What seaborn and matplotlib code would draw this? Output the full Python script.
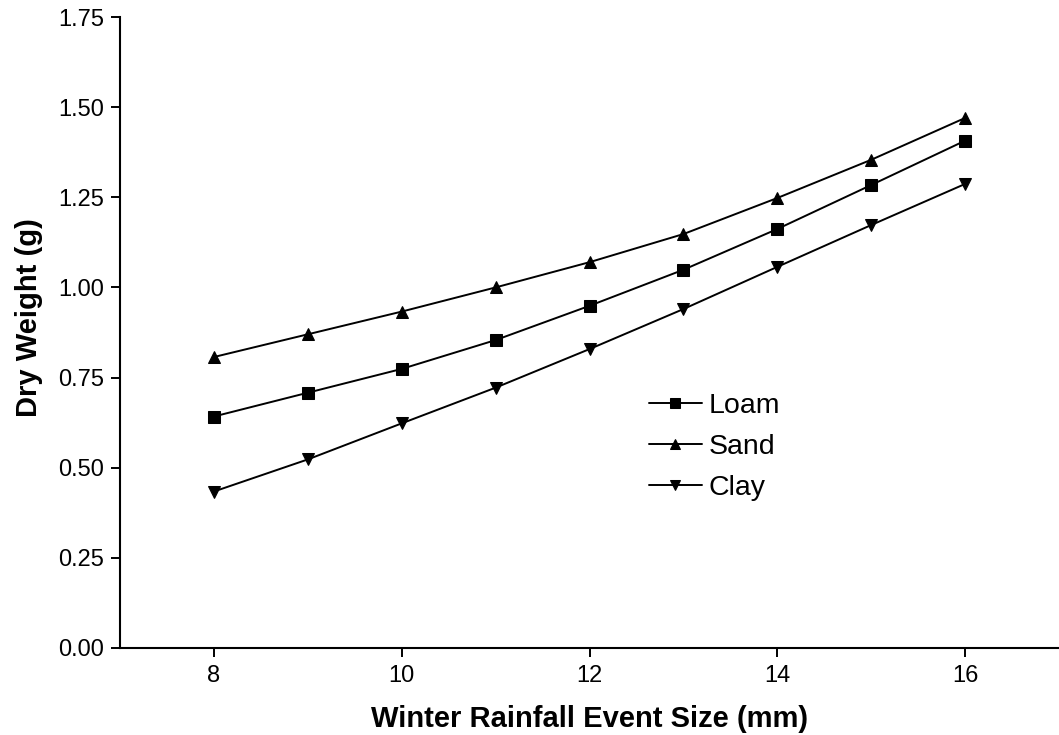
import matplotlib
matplotlib.use("Agg")
import matplotlib.pyplot as plt
import seaborn as sns
import pandas as pd

rain_mm = [8, 9, 10, 11, 12, 13, 14, 15, 16]
loam = [0.642, 0.708, 0.774, 0.854, 0.949, 1.049, 1.162, 1.284, 1.407]
sand = [0.807, 0.870, 0.933, 1.000, 1.070, 1.148, 1.248, 1.354, 1.470]
clay = [0.434, 0.523, 0.623, 0.722, 0.829, 0.940, 1.057, 1.173, 1.287]
soils = ["Loam", "Sand", "Clay"]
y_ticks = [0.00, 0.25, 0.50, 0.75, 1.00, 1.25, 1.50, 1.75]
x_ticks = [8, 10, 12, 14, 16]

df = pd.DataFrame({
    "x": rain_mm * 3,
    "y": loam + sand + clay,
    "soil": [s for s in soils for _ in rain_mm],
})

sns.set_style("ticks")
plt.rcParams["font.family"] = ["Liberation Sans", "DejaVu Sans"]
plt.rcParams["text.color"] = "black"
plt.rcParams["axes.labelcolor"] = "black"

fig = plt.figure(figsize=(10.59, 7.35), dpi=100)
ax = fig.add_axes([120 / 1059, 87 / 735, 939 / 1059, 631 / 735])

sns.lineplot(
    data=df, x="x", y="y", style="soil", style_order=soils,
    markers={"Loam": "s", "Sand": "^", "Clay": "v"}, dashes=False,
    color="black", markersize=8.5, linewidth=1.4, markeredgecolor="black",
    ax=ax,
)

ax.set_xlim(7, 17)
ax.set_ylim(0, 1.75)
ax.set_xticks(x_ticks)
ax.set_yticks(y_ticks)
ax.set_yticklabels([f"{v:.2f}" for v in y_ticks])
ax.tick_params(axis="both", direction="out", length=6.5, width=1.4, labelsize=17,
               colors="black", labelcolor="black")
ax.tick_params(axis="y", pad=5)
ax.tick_params(axis="x", pad=6)
for s in ["top", "right"]:
    ax.spines[s].set_visible(False)
for s in ["left", "bottom"]:
    ax.spines[s].set_linewidth(1.5)
    ax.spines[s].set_color("black")

ax.set_xlabel("Winter Rainfall Event Size (mm)", fontsize=21, fontweight="bold")
ax.set_ylabel("Dry Weight (g)", fontsize=21, fontweight="bold")
ax.xaxis.set_label_coords(0.5, (648 - 705) / 631)
ax.yaxis.set_label_coords((43 - 120) / 939, (648 - 318) / 631)

handles, labels = ax.get_legend_handles_labels()
ax.legend(handles, labels, frameon=False, fontsize=20.5, handlelength=1.85,
          handletextpad=0.25, labelspacing=0.53, markerscale=0.85,
          borderpad=0, borderaxespad=0,
          loc="upper left", bbox_to_anchor=((649 - 120) / 939, (648 - 393) / 631))

fig.savefig("out.png", dpi=100)
